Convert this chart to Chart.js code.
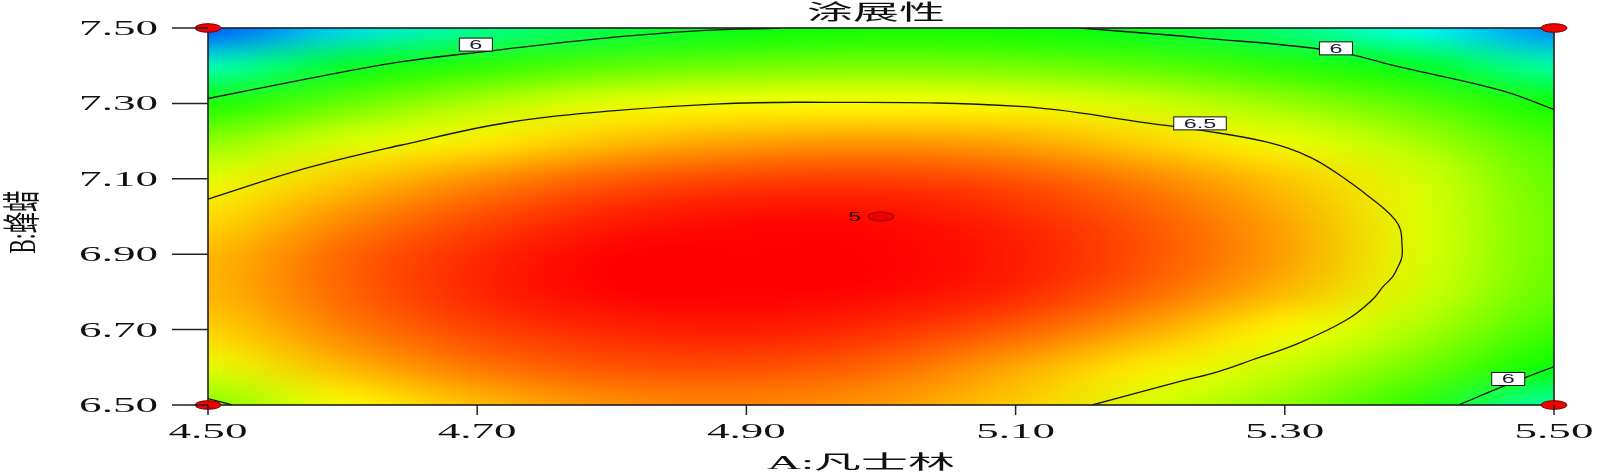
<!DOCTYPE html>
<html>
<head>
<meta charset="utf-8">
<script src="https://cdn.jsdelivr.net/npm/chart.js@4.4.1/dist/chart.umd.min.js"></script>
<style>
  body { margin: 0; background: #fff; }
  canvas { display: block; }
</style>
</head>
<body>
<canvas id="spreadChart" width="1600" height="475"></canvas>
<script>
// 响应面网格 (涂展性) - 估计值
const aValues = [4.5, 4.6, 4.7, 4.8, 4.9, 5.0, 5.1, 5.2, 5.3, 5.4, 5.5];
const bValues = [7.5, 7.4, 7.3, 7.2, 7.1, 7.0, 6.9, 6.8, 6.7, 6.6, 6.5];
const spreadGrid = [
  [5.15, 5.42, 5.70, 5.87, 5.97, 6.03, 6.02, 5.93, 5.76, 5.50, 5.25],
  [5.62, 5.93, 6.08, 6.17, 6.22, 6.24, 6.22, 6.17, 6.08, 5.94, 5.65],
  [6.04, 6.20, 6.35, 6.46, 6.49, 6.50, 6.48, 6.41, 6.30, 6.17, 6.02],
  [6.27, 6.43, 6.53, 6.62, 6.68, 6.70, 6.67, 6.58, 6.47, 6.33, 6.14],
  [6.45, 6.60, 6.72, 6.82, 6.87, 6.88, 6.84, 6.74, 6.61, 6.43, 6.19],
  [6.56, 6.72, 6.85, 6.94, 6.98, 6.98, 6.92, 6.82, 6.67, 6.44, 6.21],
  [6.63, 6.80, 6.92, 7.00, 7.03, 7.01, 6.95, 6.84, 6.69, 6.44, 6.21],
  [6.64, 6.80, 6.93, 7.00, 7.03, 6.99, 6.93, 6.80, 6.64, 6.42, 6.19],
  [6.58, 6.75, 6.87, 6.93, 6.95, 6.91, 6.82, 6.67, 6.51, 6.34, 6.12],
  [6.45, 6.64, 6.77, 6.84, 6.85, 6.80, 6.67, 6.53, 6.39, 6.22, 6.01],
  [6.25, 6.50, 6.63, 6.72, 6.74, 6.70, 6.60, 6.42, 6.28, 6.08, 5.65]
];

// 等高线 (A, B)
const c65A = [4.5, 4.573, 4.643, 4.724, 4.8, 4.876, 4.944, 5.103, 5.2, 5.237, 5.287, 5.319, 5.346, 5.361, 5.373, 5.382, 5.386, 5.387, 5.387, 5.384, 5.380, 5.373, 5.365, 5.346, 5.311, 5.276, 5.250, 5.225, 5.157];
const c65B = [7.046, 7.128, 7.189, 7.25, 7.28, 7.298, 7.303, 7.292, 7.247, 7.229, 7.197, 7.157, 7.097, 7.057, 7.023, 6.991, 6.964, 6.930, 6.893, 6.866, 6.840, 6.814, 6.779, 6.726, 6.665, 6.62, 6.588, 6.565, 6.5];
const c6LeftA = [4.5, 4.568, 4.643, 4.712, 4.791, 4.866, 4.925];
const c6LeftB = [7.313, 7.361, 7.41, 7.44, 7.472, 7.493, 7.5];
const c6RightA = [5.148, 5.237, 5.334, 5.386, 5.46, 5.5];
const c6RightB = [7.5, 7.474, 7.44, 7.396, 7.335, 7.284];
const c6LowA = [5.429, 5.464, 5.5];
const c6LowB = [6.5, 6.552, 6.602];
const c6CornerA = [4.5, 4.518];
const c6CornerB = [6.517, 6.5];

// 等高线标签
const labelText = ['6', '6', '6.5', '6'];
const labelA = [4.699, 5.338, 5.237, 5.466];
const labelB = [7.456, 7.446, 7.247, 6.569];

// 设计点
const designA = [4.5, 4.5, 5.5, 5.5, 5.0];
const designB = [6.5, 7.5, 6.5, 7.5, 7.0];
const replicateText = '5';

const xTicks = [4.5, 4.7, 4.9, 5.1, 5.3, 5.5];
const yTicks = [6.5, 6.7, 6.9, 7.1, 7.3, 7.5];
const titleText = '涂展性';
const xTitle = 'A:凡士林';
const yTitle = 'B:蜂蜡';

function pts(xs, ys) { return xs.map((x, i) => ({ x: x, y: ys[i] })); }

// 蓝-青-绿-黄-红 色带
const stops = [[0, 0, 255], [0, 255, 255], [0, 255, 0], [255, 255, 0], [255, 0, 0]];
function rainbow(v) {
  let t = (v - 5) / 2;
  t = Math.max(0, Math.min(1, t));
  const s = t * 4;
  const k = Math.min(3, Math.floor(s));
  const f = s - k;
  return stops[k].map((c, i) => Math.round(c + (stops[k + 1][i] - c) * f));
}

// 红色椭圆标记
const marker = document.createElement('canvas');
marker.width = 30; marker.height = 12;
(function() {
  const m = marker.getContext('2d');
  m.beginPath();
  m.ellipse(15, 6, 13, 4.3, 0, 0, Math.PI * 2);
  m.fillStyle = '#f00000';
  m.fill();
  m.lineWidth = 1;
  m.strokeStyle = '#7a0000';
  m.stroke();
})();

function stretchText(ctx, text, x, y, font, sx, align, baseline, color) {
  ctx.save();
  ctx.font = font;
  ctx.translate(x, y);
  ctx.scale(sx, 1);
  ctx.textAlign = align;
  ctx.textBaseline = baseline;
  ctx.fillStyle = color || '#111';
  ctx.fillText(text, 0, 0);
  ctx.restore();
}

const surfacePlugin = {
  id: 'surface',
  beforeDatasetsDraw(chart) {
    const ctx = chart.ctx, xs = chart.scales.x, ys = chart.scales.y, area = chart.chartArea;
    const nA = aValues.length, nB = bValues.length, pad = 2;
    const off = document.createElement('canvas');
    off.width = nA + pad * 2; off.height = nB + pad * 2;
    const octx = off.getContext('2d');
    const img = octx.createImageData(off.width, off.height);
    for (let j = 0; j < off.height; j++) {
      for (let i = 0; i < off.width; i++) {
        const jj = Math.max(0, Math.min(nB - 1, j - pad));
        const ii = Math.max(0, Math.min(nA - 1, i - pad));
        const c = rainbow(spreadGrid[jj][ii]);
        const p = (j * off.width + i) * 4;
        img.data[p] = c[0]; img.data[p + 1] = c[1]; img.data[p + 2] = c[2]; img.data[p + 3] = 255;
      }
    }
    octx.putImageData(img, 0, 0);
    const cellW = xs.getPixelForValue(aValues[1]) - xs.getPixelForValue(aValues[0]);
    const cellH = ys.getPixelForValue(bValues[1]) - ys.getPixelForValue(bValues[0]);
    const x0 = xs.getPixelForValue(aValues[0]) - cellW * (pad + 0.5);
    const y0 = ys.getPixelForValue(bValues[0]) - cellH * (pad + 0.5);
    ctx.save();
    ctx.beginPath();
    ctx.rect(area.left, area.top, area.right - area.left, area.bottom - area.top);
    ctx.clip();
    ctx.imageSmoothingEnabled = true;
    ctx.imageSmoothingQuality = 'high';
    ctx.drawImage(off, x0, y0, cellW * off.width, cellH * off.height);
    ctx.restore();

    // 边框
    ctx.save();
    ctx.strokeStyle = '#1f1f1f';
    ctx.lineWidth = 1.6;
    ctx.strokeRect(area.left, area.top, area.right - area.left, area.bottom - area.top);
    ctx.restore();
  },
  afterDatasetsDraw(chart) {
    const ctx = chart.ctx, xs = chart.scales.x, ys = chart.scales.y;
    const font = '12px "Liberation Sans"', sx = 1.95;
    labelText.forEach((t, i) => {
      const cx = xs.getPixelForValue(labelA[i]);
      const cy = ys.getPixelForValue(labelB[i]);
      ctx.save();
      ctx.font = font;
      const w = ctx.measureText(t).width * sx + 20;
      const h = 13;
      ctx.fillStyle = '#fff';
      ctx.fillRect(cx - w / 2, cy - h / 2, w, h);
      ctx.strokeStyle = '#111';
      ctx.lineWidth = 1;
      ctx.strokeRect(cx - w / 2, cy - h / 2, w, h);
      ctx.restore();
      stretchText(ctx, t, cx, cy + 4.5, font, sx, 'center', 'alphabetic', '#1c1c38');
    });
    // 中心点重复次数
    const px = xs.getPixelForValue(designA[4]);
    const py = ys.getPixelForValue(designB[4]);
    stretchText(ctx, replicateText, px - 20, py + 4, '12px "Liberation Sans"', 1.9, 'right', 'alphabetic', '#2a0a00');
  },
  afterDraw(chart) {
    const ctx = chart.ctx, xs = chart.scales.x, ys = chart.scales.y, area = chart.chartArea;
    const tickFont = '22px "Liberation Serif"', tsx = 2.05;
    ctx.save();
    ctx.strokeStyle = '#222';
    ctx.lineWidth = 1.5;
    yTicks.forEach(v => {
      const y = ys.getPixelForValue(v);
      ctx.beginPath(); ctx.moveTo(area.left - 36, y); ctx.lineTo(area.left, y); ctx.stroke();
    });
    xTicks.forEach(v => {
      const x = xs.getPixelForValue(v);
      ctx.beginPath(); ctx.moveTo(x, area.bottom); ctx.lineTo(x, area.bottom + 10); ctx.stroke();
    });
    ctx.restore();
    yTicks.forEach(v => {
      const y = ys.getPixelForValue(v);
      stretchText(ctx, v.toFixed(2), area.left - 50, y + 7, tickFont, tsx, 'right', 'alphabetic');
    });
    xTicks.forEach(v => {
      const x = xs.getPixelForValue(v);
      stretchText(ctx, v.toFixed(2), x, area.bottom + 33, tickFont, tsx, 'center', 'alphabetic');
    });

    // 标题与坐标轴标题
    const cjk = '"Liberation Serif", "Noto Sans CJK SC"';
    ctx.save();
    ctx.font = '21px ' + cjk;
    let w = ctx.measureText(titleText).width;
    ctx.restore();
    stretchText(ctx, titleText, (area.left + area.right) / 2 - 5, 13, '21px ' + cjk, 138 / w, 'center', 'middle');

    ctx.save();
    ctx.font = '19px ' + cjk;
    w = ctx.measureText(xTitle).width;
    ctx.restore();
    stretchText(ctx, xTitle, 861, 464, '19px ' + cjk, 188 / w, 'center', 'middle');

    ctx.save();
    ctx.font = '20px ' + cjk;
    w = ctx.measureText(yTitle).width;
    ctx.translate(25, 222);
    ctx.scale(1.9, 1);
    ctx.rotate(-Math.PI / 2);
    ctx.scale(63 / w, 1);
    ctx.textAlign = 'center';
    ctx.textBaseline = 'middle';
    ctx.fillStyle = '#111';
    ctx.fillText(yTitle, 0, 0);
    ctx.restore();
  }
};

const lineStyle = {
  showLine: true,
  borderColor: '#151515',
  borderWidth: 1.3,
  pointRadius: 0,
  tension: 0.4,
  fill: false
};

const ctx = document.getElementById('spreadChart').getContext('2d');
const spreadChart = new Chart(ctx, {
  type: 'scatter',
  data: {
    datasets: [
      {
        label: '设计点',
        data: pts(designA, designB),
        pointStyle: marker,
        pointRadius: 6,
        showLine: false,
        clip: false
      },
      Object.assign({ label: '6.5', data: pts(c65A, c65B) }, lineStyle),
      Object.assign({ label: '6a', data: pts(c6LeftA, c6LeftB) }, lineStyle),
      Object.assign({ label: '6b', data: pts(c6RightA, c6RightB) }, lineStyle),
      Object.assign({ label: '6c', data: pts(c6LowA, c6LowB) }, lineStyle),
      Object.assign({ label: '6d', data: pts(c6CornerA, c6CornerB) }, lineStyle, { tension: 0 })
    ]
  },
  options: {
    responsive: false,
    animation: false,
    devicePixelRatio: 1,
    layout: { padding: { left: 0, right: 46, top: 28, bottom: 0 } },
    scales: {
      x: {
        type: 'linear',
        min: 4.5,
        max: 5.5,
        ticks: { display: false },
        grid: { display: false },
        border: { display: false },
        afterBuildTicks: s => { s.ticks = xTicks.map(v => ({ value: v })); },
        afterFit: s => { s.height = 70; }
      },
      y: {
        type: 'linear',
        min: 6.5,
        max: 7.5,
        ticks: { display: false },
        grid: { display: false },
        border: { display: false },
        afterBuildTicks: s => { s.ticks = yTicks.map(v => ({ value: v })); },
        afterFit: s => { s.width = 208; }
      }
    },
    plugins: {
      legend: { display: false },
      tooltip: { enabled: false }
    }
  },
  plugins: [surfacePlugin]
});
</script>
</body>
</html>
